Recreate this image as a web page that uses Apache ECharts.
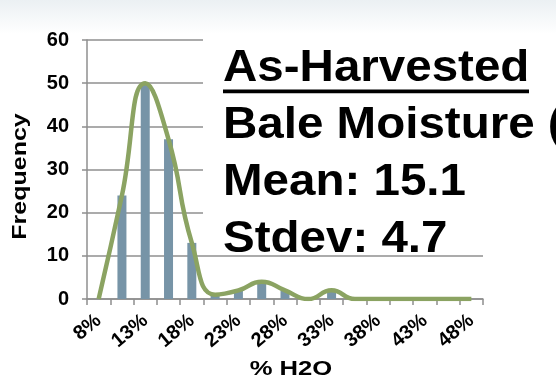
<!DOCTYPE html>
<html>
<head>
<meta charset="utf-8">
<title>As-Harvested Bale Moisture</title>
<script src="https://cdn.jsdelivr.net/npm/echarts@6/dist/echarts.min.js"></script>
<style>
  html, body { margin: 0; padding: 0; background: #ffffff; }
  #chart { width: 556px; height: 388px; }
</style>
</head>
<body>
<div id="chart"></div>
<script>
// Moisture bins (% H2O); every other bin is labelled on the axis
const categories = ['8%', '10.5%', '13%', '15.5%', '18%', '20.5%', '23%', '25.5%', '28%',
                    '30.5%', '33%', '35.5%', '38%', '40.5%', '43%', '45.5%', '48%'];
// Number of bales falling in each bin
const frequency = [0, 24, 50, 37, 13, 1, 2, 4, 2, 0, 2, 0, 0, 0, 0, 0, 0];
// Text block lines
const titleLine = 'As-Harvested';
const infoLines = ['Bale Moisture (%)', 'Mean: 15.1', 'Stdev: 4.7'];
const yAxisTitle = 'Frequency';
const xAxisTitle = '% H2O';

const FONT = '"Liberation Sans", Arial, Helvetica, sans-serif';
const GRID_GREY = '#8f8f8f';
const BAR_COLOR = '#7794a7';
const CURVE_COLOR = '#8ba362';

const chart = echarts.init(document.getElementById('chart'), null, { renderer: 'canvas' });

// Text block: big bold lines, slightly widened, on a white panel
const blockX = 223;
const blockSize = 44;
const baselines = [84.5, 141, 198, 255];
const mid = (b) => b - 0.3465 * blockSize;

const graphics = [
  {
    type: 'rect', z: 0, silent: true,
    shape: { x: 0, y: 0, width: 556, height: 34 },
    style: {
      fill: new echarts.graphic.LinearGradient(0, 0, 0, 1, [
        { offset: 0, color: '#ebf0f3' },
        { offset: 1, color: '#ffffff' }
      ])
    }
  },
  {
    type: 'rect', z: 100, silent: true,
    shape: { x: 203, y: 33, width: 360, height: 222 },
    style: { fill: '#ffffff' }
  },
  {
    type: 'text', z: 101, x: blockX, y: mid(baselines[0]), scaleX: 1.08,
    style: { text: titleLine, x: 0, y: 0, align: 'left', verticalAlign: 'middle',
             font: 'bold ' + blockSize + 'px ' + FONT, fill: '#000000' }
  },
  {
    type: 'rect', z: 101, silent: true,
    shape: { x: blockX, y: 89.5, width: 306, height: 3.8 },
    style: { fill: '#000000' }
  },
  {
    type: 'text', z: 101, x: 20, y: 176.5, rotation: Math.PI / 2, scaleX: 1.25,
    style: { text: yAxisTitle, x: 0, y: 0, align: 'center', verticalAlign: 'middle',
             font: 'bold 20px ' + FONT, fill: '#000000' }
  },
  {
    type: 'text', z: 101, x: 291, y: 369.5, scaleX: 1.22,
    style: { text: xAxisTitle, x: 0, y: 0, align: 'center', verticalAlign: 'middle',
             font: 'bold 21px ' + FONT, fill: '#000000' }
  }
];
infoLines.forEach((line, i) => {
  graphics.push({
    type: 'text', z: 101, x: blockX, y: mid(baselines[i + 1]), scaleX: 1.08,
    style: { text: line, x: 0, y: 0, align: 'left', verticalAlign: 'middle',
             font: 'bold ' + blockSize + 'px ' + FONT, fill: '#000000' }
  });
});

const option = {
  animation: false,
  backgroundColor: '#ffffff',
  textStyle: { fontFamily: FONT },
  grid: { left: 87, right: 73, top: 40, bottom: 89, containLabel: false },
  xAxis: {
    type: 'category',
    data: categories,
    boundaryGap: true,
    axisLine: { show: true, lineStyle: { color: GRID_GREY, width: 1.5 } },
    axisTick: { show: true, interval: 0, length: 6, inside: false,
                lineStyle: { color: GRID_GREY, width: 1.5 } },
    axisLabel: {
      interval: 1, rotate: 40, margin: 19,
      color: '#000000', fontWeight: 'bold', fontSize: 20, fontFamily: FONT
    },
    splitLine: { show: false }
  },
  yAxis: {
    type: 'value',
    min: 0, max: 60, interval: 10,
    axisLine: { show: true, lineStyle: { color: GRID_GREY, width: 1.5 } },
    axisTick: { show: true, length: 5, inside: false,
                lineStyle: { color: GRID_GREY, width: 1.5 } },
    axisLabel: { margin: 18, color: '#000000', fontWeight: 'bold', fontSize: 20, fontFamily: FONT },
    splitLine: { show: true, lineStyle: { color: GRID_GREY, width: 1.5 } }
  },
  series: [
    {
      type: 'bar',
      data: frequency,
      barWidth: 9,
      itemStyle: { color: BAR_COLOR },
      z: 2
    },
    {
      type: 'line',
      data: frequency,
      smooth: 0.5,
      showSymbol: false,
      symbol: 'none',
      lineStyle: { color: CURVE_COLOR, width: 4.5 },
      z: 3
    }
  ],
  graphic: graphics
};

chart.setOption(option);
</script>
</body>
</html>
